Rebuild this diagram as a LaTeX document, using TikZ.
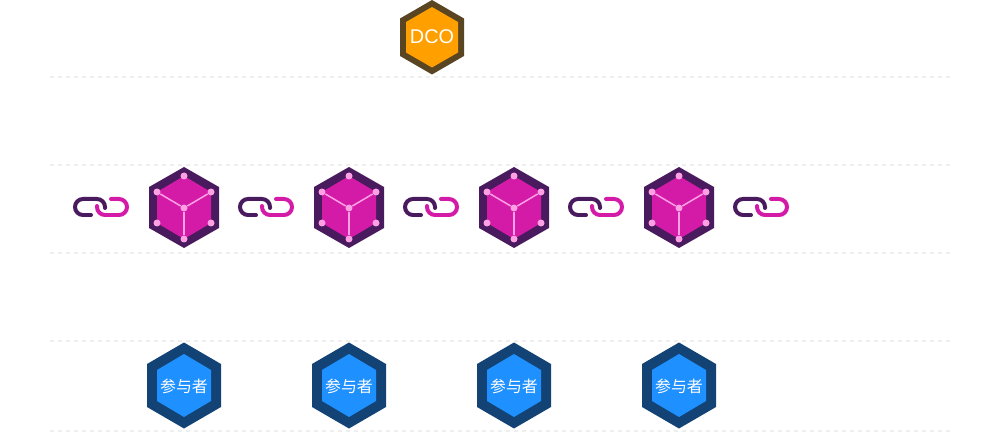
\documentclass[tikz,border=0pt]{standalone}
\usepackage{fontspec}
\setmainfont{Liberation Sans}
\newfontfamily\cjkfont{Noto Sans CJK SC}
\usepackage{xcolor}
\definecolor{dcoedge}{HTML}{5A4522}
\definecolor{dcofill}{HTML}{FF9F00}
\definecolor{blockedge}{HTML}{4A1A5E}
\definecolor{blockfill}{HTML}{D41BA8}
\definecolor{blockdot}{HTML}{FFA0E4}
\definecolor{partedge}{HTML}{134374}
\definecolor{partfill}{HTML}{1E90FF}
\definecolor{laneline}{HTML}{EEEEEE}
\begin{document}
\begin{tikzpicture}[
    x=0.02cm, y=-0.02cm,
    lane/.style={draw=laneline, line width=0.04cm, dash pattern=on 0.08cm off 0.08cm},
    chainlink/.style={line width=0.08cm, line cap=round},
    cubeedge/.style={draw=blockdot, line width=0.03cm},
    cubedot/.style={circle, fill=blockdot, inner sep=0pt, minimum size=0.14cm},
    hextext/.style={text=white, inner sep=0pt},
]
\useasboundingbox (0,0) rectangle (1000,432);

% Lanes
\foreach \y in {77,165,253,341,431} {
    \draw[lane] (50,\y) -- (950,\y);
}

% DCO
\fill[dcoedge] (432,0) -- (464,18.5) -- (464,56) -- (432,74.5) -- (400,56) -- (400,18.5) -- cycle;
\fill[dcofill] (432,7) -- (458,22) -- (458,52.5) -- (432,67.5) -- (406,52.5) -- (406,22) -- cycle;
\node[hextext, font=\fontsize{11.3pt}{12pt}\selectfont] (dco) at (432,37) {DCO};

% Blocks
\foreach \x/\name in {184/a,349/b,514/c,679/d} {
    \begin{scope}[shift={(\x,0)}]
    \fill[blockedge] (0,167) -- (35,187) -- (35,228) -- (0,248) -- (-35,228) -- (-35,187) -- cycle;
    \fill[blockfill] (0,176) -- (27,192) -- (27,223) -- (0,239) -- (-27,223) -- (-27,192) -- cycle;
    \node[cubedot] (\name c) at (0,208) {};
    \foreach \i/\px/\py in {1/0/176,2/27/192,3/27/223,4/0/239,5/-27/223,6/-27/192} {
        \node[cubedot] (\name\i) at (\px,\py) {};
    }
    \draw[cubeedge] (\name c) -- (\name2);
    \draw[cubeedge] (\name c) -- (\name4);
    \draw[cubeedge] (\name c) -- (\name6);
    \end{scope}
}

% Links
\foreach \x in {0,165,330,495,660} {
    \begin{scope}[shift={(\x,0)}]
    \draw[chainlink, blockedge] (91,215) -- (83,215) .. controls (78.6,215) and (75,211.4) .. (75,207) .. controls (75,202.6) and (78.6,199) .. (83,199) -- (97,199) .. controls (101.4,199) and (105,202.6) .. (105,207) -- (105,208);
    \draw[chainlink, blockfill] (111,199) -- (119,199) .. controls (123.4,199) and (127,202.6) .. (127,207) .. controls (127,211.4) and (123.4,215) .. (119,215) -- (105,215) .. controls (100.6,215) and (97,211.4) .. (97,207) -- (97,206);
    \end{scope}
}

% Participants
\foreach \x/\name in {184/pa,349/pb,514/pc,679/pd} {
    \begin{scope}[shift={(\x,0)}]
    \fill[partedge] (0,342.5) -- (37,364) -- (37,407) -- (0,428.5) -- (-37,407) -- (-37,364) -- cycle;
    \fill[partfill] (0,354) -- (27,370) -- (27,401) -- (0,417) -- (-27,401) -- (-27,370) -- cycle;
    \node[hextext, font=\cjkfont\fontsize{9.07pt}{10pt}\selectfont] (\name) at (0,386) {参与者};
    \end{scope}
}
\end{tikzpicture}
\end{document}
